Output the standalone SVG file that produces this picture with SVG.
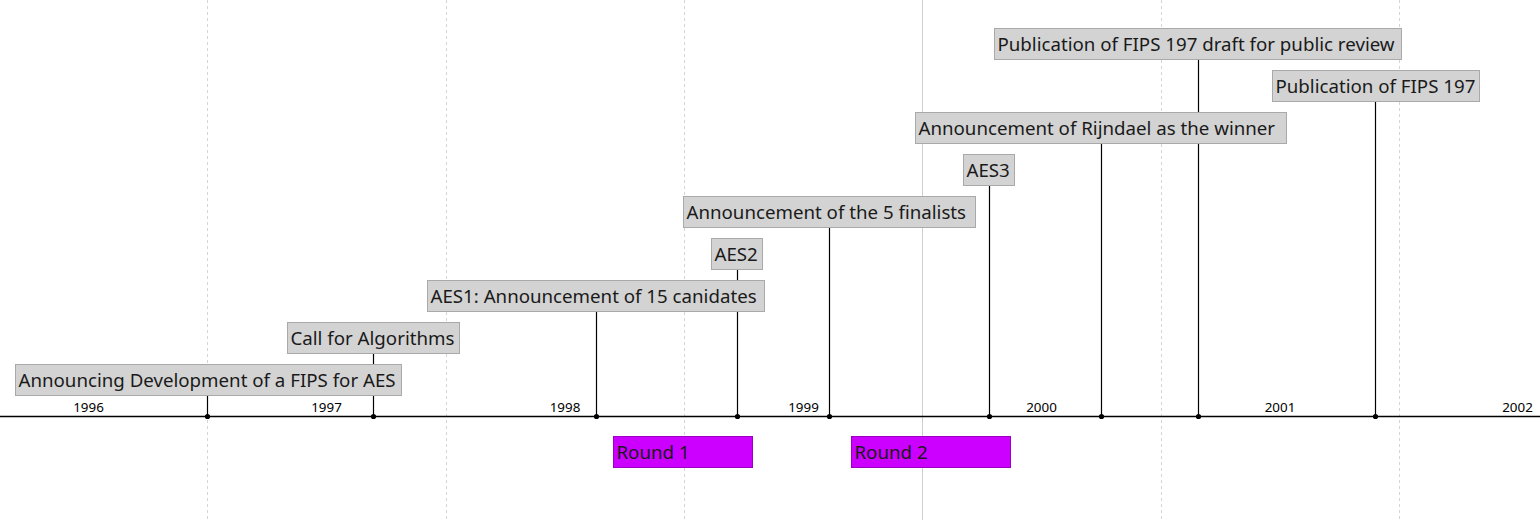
<svg xmlns="http://www.w3.org/2000/svg" width="1540" height="520" viewBox="0 0 1540 520">
<style>
.grid{stroke:#d4d4d4;stroke-width:1;stroke-dasharray:3 3;fill:none}
.gridsolid{stroke:#cfcfcf;stroke-width:1;fill:none}
.axis{stroke:#000;stroke-width:1.3;fill:none}
.year{font-family:"Noto Sans","DejaVu Sans",sans-serif;font-size:13.4px;fill:#000;text-anchor:middle}
.box{fill:#d3d3d3;stroke:#a9a9a9;stroke-width:1}
.lbl{font-family:"Noto Sans","DejaVu Sans",sans-serif;font-size:18.7px;fill:#1a1a1a}
.stem{stroke:#000;stroke-width:1.2;fill:none}
.dot{fill:#000}
.round{fill:#cc00ff;stroke:#9d00c4;stroke-width:1}
</style>
<rect width="1540" height="520" fill="#fff"/>
<g id="grid">
<line class="grid" x1="207.5" y1="0" x2="207.5" y2="520"/>
<line class="grid" x1="446.5" y1="0" x2="446.5" y2="520"/>
<line class="grid" x1="684.5" y1="0" x2="684.5" y2="520"/>
<line class="gridsolid" x1="922.5" y1="0" x2="922.5" y2="520"/>
<line class="grid" x1="1161.5" y1="0" x2="1161.5" y2="520"/>
<line class="grid" x1="1399.5" y1="0" x2="1399.5" y2="520"/>
</g>
<g id="axis">
<line class="axis" x1="0" y1="416.5" x2="1540" y2="416.5"/>
<text class="year" x="88.5" y="412">1996</text>
<text class="year" x="326.5" y="412">1997</text>
<text class="year" x="565" y="412">1998</text>
<text class="year" x="803.5" y="412">1999</text>
<text class="year" x="1041.5" y="412">2000</text>
<text class="year" x="1280" y="412">2001</text>
<text class="year" x="1517.5" y="412">2002</text>
</g>
<g id="connectors">
<line class="stem" x1="207.5" y1="395.5" x2="207.5" y2="416.5"/>
<line class="stem" x1="373.5" y1="353.5" x2="373.5" y2="416.5"/>
<line class="stem" x1="596.5" y1="311.5" x2="596.5" y2="416.5"/>
<line class="stem" x1="737.5" y1="269.5" x2="737.5" y2="416.5"/>
<line class="stem" x1="829.5" y1="227.5" x2="829.5" y2="416.5"/>
<line class="stem" x1="989.5" y1="185.5" x2="989.5" y2="416.5"/>
<line class="stem" x1="1101.5" y1="143.5" x2="1101.5" y2="416.5"/>
<line class="stem" x1="1198.5" y1="59.5" x2="1198.5" y2="416.5"/>
<line class="stem" x1="1375.5" y1="101.5" x2="1375.5" y2="416.5"/>
<circle class="dot" cx="207.5" cy="416.5" r="2.6"/>
<circle class="dot" cx="373.5" cy="416.5" r="2.6"/>
<circle class="dot" cx="596.5" cy="416.5" r="2.6"/>
<circle class="dot" cx="737.5" cy="416.5" r="2.6"/>
<circle class="dot" cx="829.5" cy="416.5" r="2.6"/>
<circle class="dot" cx="989.5" cy="416.5" r="2.6"/>
<circle class="dot" cx="1101.5" cy="416.5" r="2.6"/>
<circle class="dot" cx="1198.5" cy="416.5" r="2.6"/>
<circle class="dot" cx="1375.5" cy="416.5" r="2.6"/>
</g>
<g id="ev1"><rect class="box" x="15.5" y="364.5" width="386" height="31"/><text class="lbl" x="18.5" y="387">Announcing Development of a FIPS for AES</text></g>
<g id="ev2"><rect class="box" x="287.5" y="322.5" width="172" height="31"/><text class="lbl" x="290.5" y="345">Call for Algorithms</text></g>
<g id="ev3"><rect class="box" x="427.5" y="280.5" width="337" height="31"/><text class="lbl" x="430.5" y="303">AES1: Announcement of 15 canidates</text></g>
<g id="ev4"><rect class="box" x="711.5" y="238.5" width="51" height="31"/><text class="lbl" x="714.5" y="261">AES2</text></g>
<g id="ev5"><rect class="box" x="683.5" y="196.5" width="292" height="31"/><text class="lbl" x="686.5" y="219">Announcement of the 5 finalists</text></g>
<g id="ev6"><rect class="box" x="963.5" y="154.5" width="51" height="31"/><text class="lbl" x="966.5" y="177">AES3</text></g>
<g id="ev7"><rect class="box" x="915.5" y="112.5" width="371" height="31"/><text class="lbl" x="918.5" y="135">Announcement of Rijndael as the winner</text></g>
<g id="ev8"><rect class="box" x="994.5" y="28.5" width="407" height="31"/><text class="lbl" x="997.5" y="51">Publication of FIPS 197 draft for public review</text></g>
<g id="ev9"><rect class="box" x="1272.5" y="70.5" width="207" height="31"/><text class="lbl" x="1275.5" y="93">Publication of FIPS 197</text></g>
<g id="round1"><rect class="round" x="613.5" y="436.5" width="139" height="31"/><text class="lbl" x="616.5" y="459" fill="#000">Round 1</text></g>
<g id="round2"><rect class="round" x="851.5" y="436.5" width="159" height="31"/><text class="lbl" x="854.5" y="459" fill="#000">Round 2</text></g>
</svg>
